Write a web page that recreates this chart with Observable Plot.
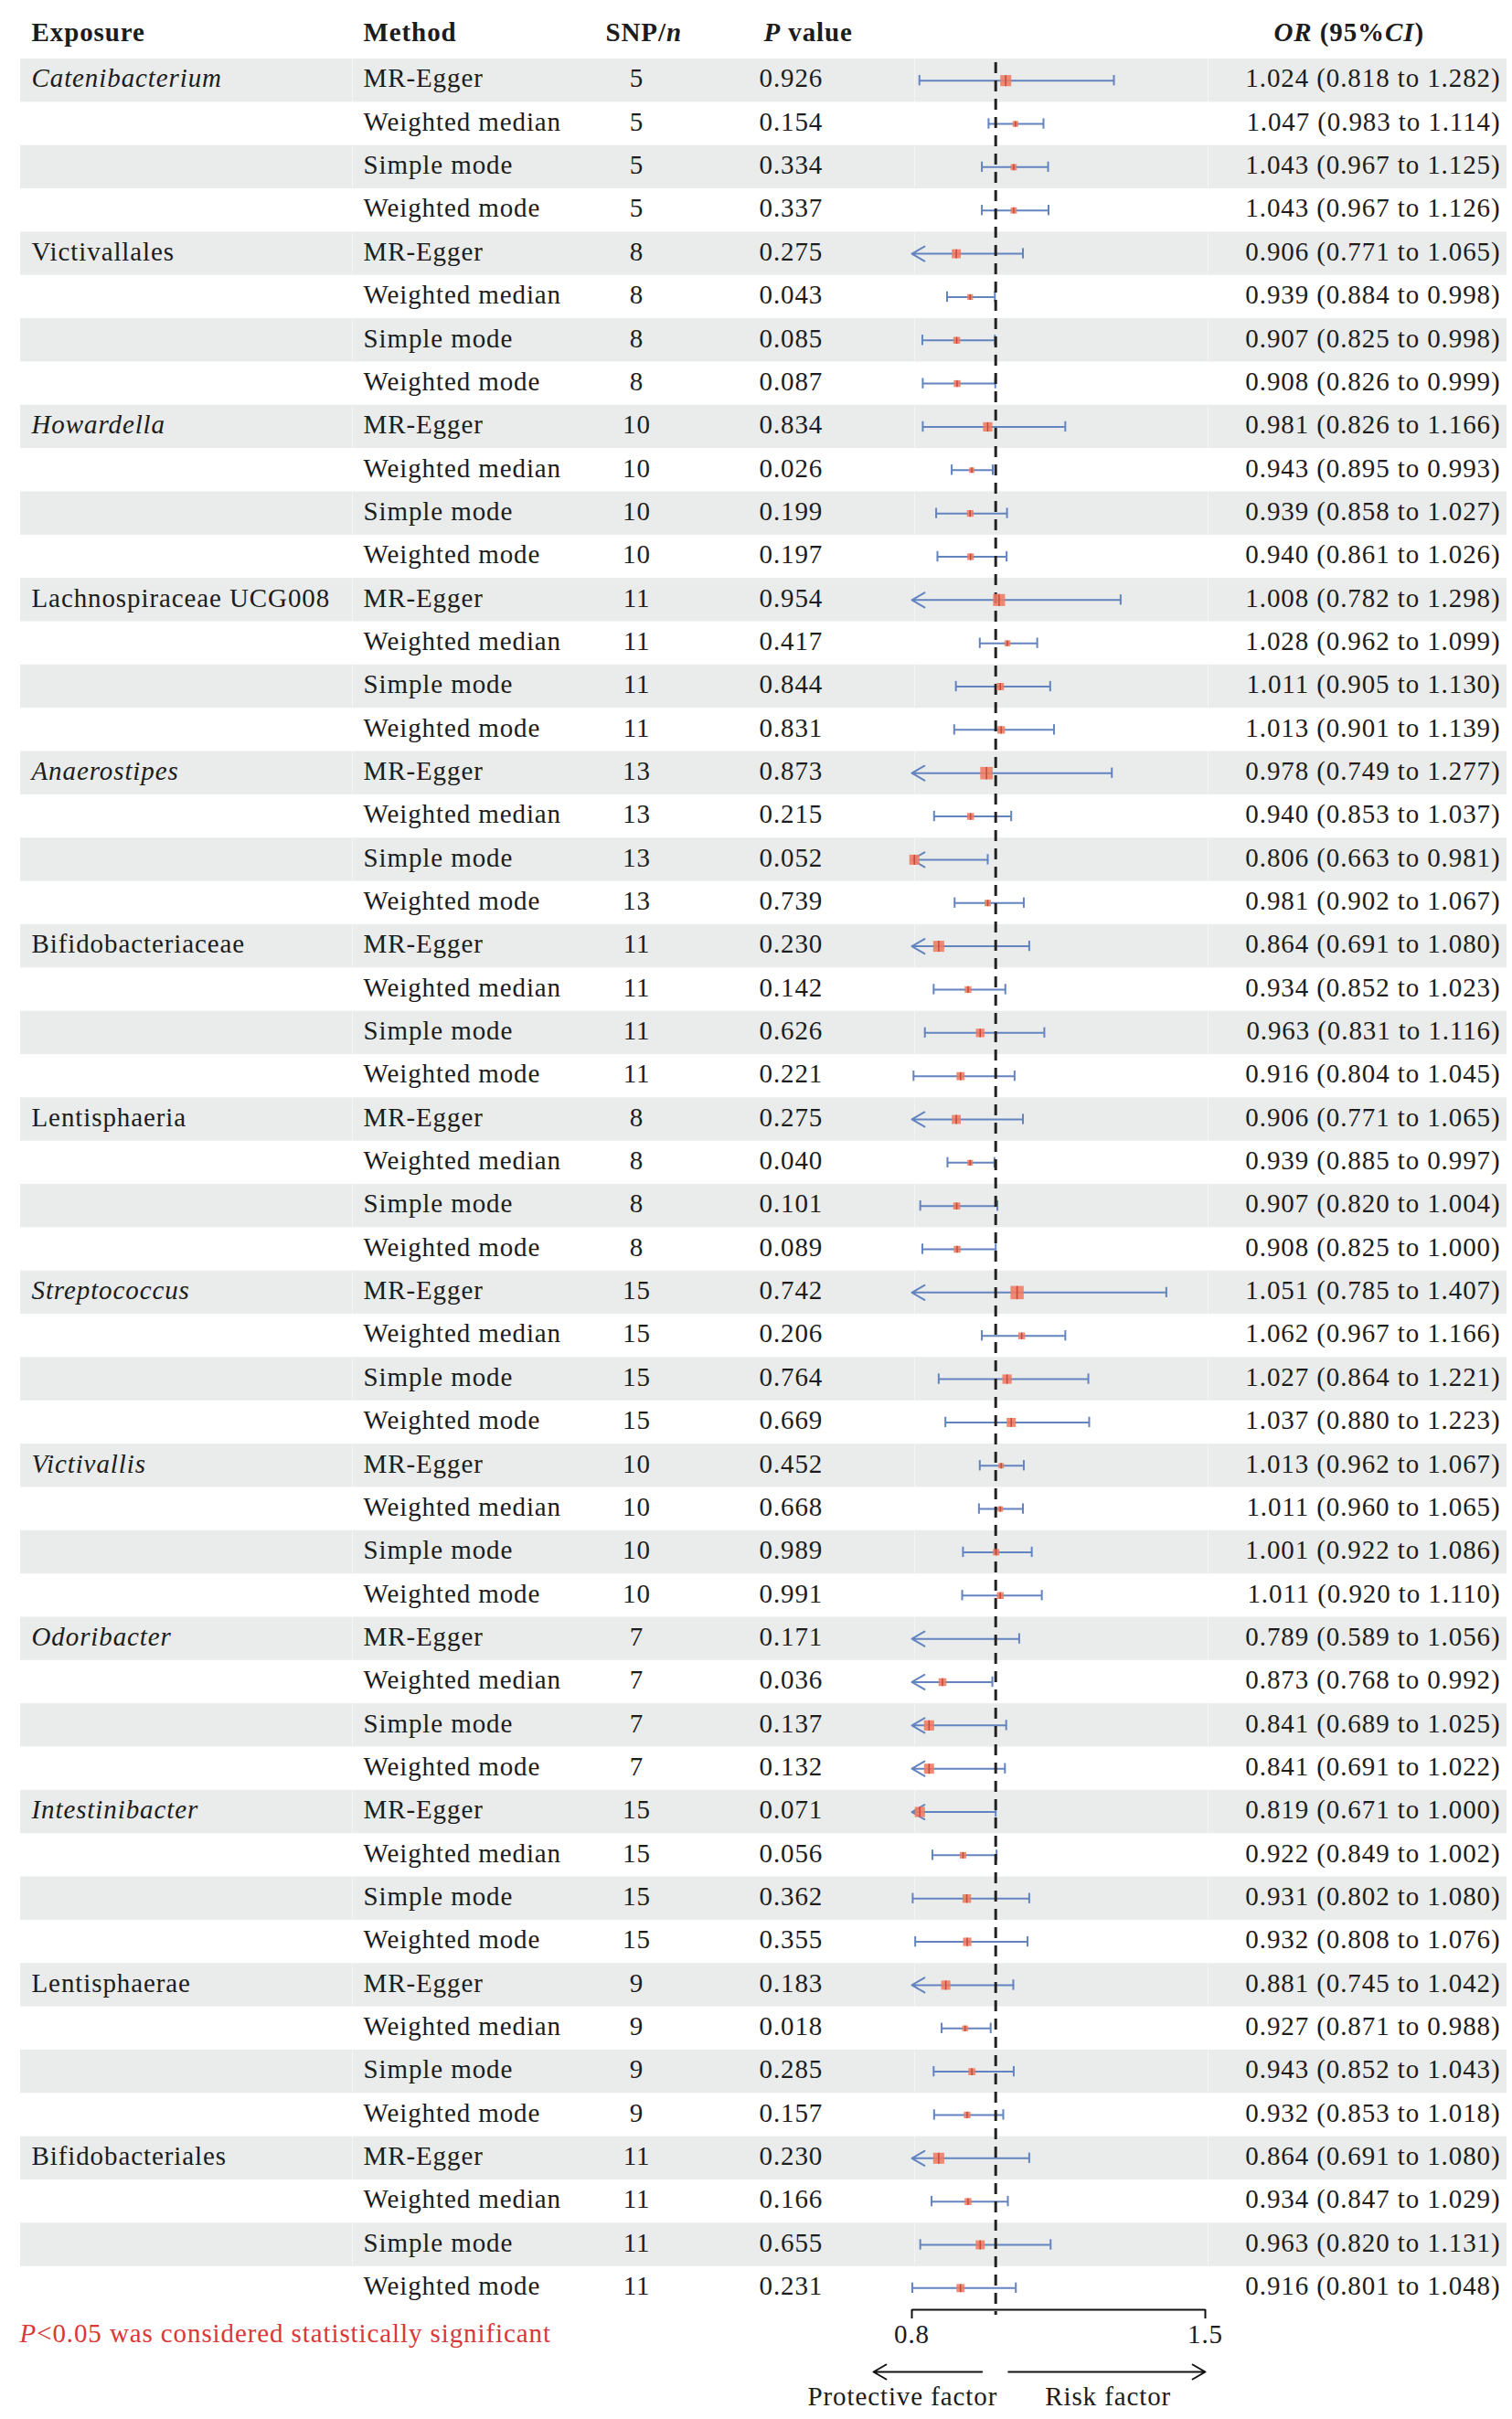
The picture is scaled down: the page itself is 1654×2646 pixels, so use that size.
<!DOCTYPE html>
<html>
<head>
<meta charset="utf-8">
<script src="https://cdn.jsdelivr.net/npm/d3@7"></script>
<script src="https://cdn.jsdelivr.net/npm/@observablehq/plot@0.6"></script>
<style>
  html, body { margin: 0; padding: 0; background: #ffffff; }
  #chart svg { display: block; }
</style>
</head>
<body>
<div id="chart"></div>
<script>
// ---------------- DATA ----------------
const exposures = ["Catenibacterium", "Victivallales", "Howardella", "Lachnospiraceae UCG008",
  "Anaerostipes", "Bifidobacteriaceae", "Lentisphaeria", "Streptococcus", "Victivallis",
  "Odoribacter", "Intestinibacter", "Lentisphaerae", "Bifidobacteriales"];
const italicExposures = ["Catenibacterium", "Howardella", "Anaerostipes", "Streptococcus",
  "Victivallis", "Odoribacter", "Intestinibacter"];
const snps = [5, 8, 10, 11, 13, 11, 8, 15, 10, 7, 15, 9, 11];
const methods = ["MR-Egger", "Weighted median", "Simple mode", "Weighted mode"];
const pValues = [
  0.926, 0.154, 0.334, 0.337,
  0.275, 0.043, 0.085, 0.087,
  0.834, 0.026, 0.199, 0.197,
  0.954, 0.417, 0.844, 0.831,
  0.873, 0.215, 0.052, 0.739,
  0.230, 0.142, 0.626, 0.221,
  0.275, 0.040, 0.101, 0.089,
  0.742, 0.206, 0.764, 0.669,
  0.452, 0.668, 0.989, 0.991,
  0.171, 0.036, 0.137, 0.132,
  0.071, 0.056, 0.362, 0.355,
  0.183, 0.018, 0.285, 0.157,
  0.230, 0.166, 0.655, 0.231];
const orValues = [
  1.024, 1.047, 1.043, 1.043,
  0.906, 0.939, 0.907, 0.908,
  0.981, 0.943, 0.939, 0.940,
  1.008, 1.028, 1.011, 1.013,
  0.978, 0.940, 0.806, 0.981,
  0.864, 0.934, 0.963, 0.916,
  0.906, 0.939, 0.907, 0.908,
  1.051, 1.062, 1.027, 1.037,
  1.013, 1.011, 1.001, 1.011,
  0.789, 0.873, 0.841, 0.841,
  0.819, 0.922, 0.931, 0.932,
  0.881, 0.927, 0.943, 0.932,
  0.864, 0.934, 0.963, 0.916];
const ciLower = [
  0.818, 0.983, 0.967, 0.967,
  0.771, 0.884, 0.825, 0.826,
  0.826, 0.895, 0.858, 0.861,
  0.782, 0.962, 0.905, 0.901,
  0.749, 0.853, 0.663, 0.902,
  0.691, 0.852, 0.831, 0.804,
  0.771, 0.885, 0.820, 0.825,
  0.785, 0.967, 0.864, 0.880,
  0.962, 0.960, 0.922, 0.920,
  0.589, 0.768, 0.689, 0.691,
  0.671, 0.849, 0.802, 0.808,
  0.745, 0.871, 0.852, 0.853,
  0.691, 0.847, 0.820, 0.801];
const ciUpper = [
  1.282, 1.114, 1.125, 1.126,
  1.065, 0.998, 0.998, 0.999,
  1.166, 0.993, 1.027, 1.026,
  1.298, 1.099, 1.130, 1.139,
  1.277, 1.037, 0.981, 1.067,
  1.080, 1.023, 1.116, 1.045,
  1.065, 0.997, 1.004, 1.000,
  1.407, 1.166, 1.221, 1.223,
  1.067, 1.065, 1.086, 1.110,
  1.056, 0.992, 1.025, 1.022,
  1.000, 1.002, 1.080, 1.076,
  1.042, 0.988, 1.043, 1.018,
  1.080, 1.029, 1.131, 1.048];
const xTicks = [0.8, 1.5];
const nullOR = 1;
const headers = ["Exposure", "Method", "SNP/*n*", "*P* value", "*OR* (95%*CI*)"];
const footnote = "*P*<0.05 was considered statistically significant";
const directionLabels = ["Protective factor", "Risk factor"];

// ---------------- TABLE ----------------
const rows = [];
exposures.forEach((e, g) => methods.forEach((m, k) => {
  const i = g * methods.length + k;
  rows.push({
    row: i, exposure: k === 0 ? e : "", italic: italicExposures.includes(e),
    method: m, snp: snps[g], p: pValues[i], or: orValues[i], lower: ciLower[i], upper: ciUpper[i]
  });
}));

// ---------------- LAYOUT ----------------
const W = 1654, H = 2646;
const M = {top: 64, bottom: 120, left: 997, right: 336};
const rowH = (H - M.top - M.bottom) / rows.length;
const colX = {exposure: 34, method: 397, snpHead: 662, snp: 696, p: 830, pHead: 835, orHead: 1393, or: 1641};
const dxOf = (px) => px - M.left;
const bandExtent = [22, 1648];
const bandSeparators = [385, 1000, 1321];
const rowDy = -2;

const [xmin, xmax] = d3.extent(xTicks);
const fmt3 = d3.format(".3f");
const strip = (s) => s.replace(/\*/g, "");
const blue = "#6384bf";
const textColor = "#1c1c1c";

const shown = rows.filter(d => d.or >= xmin && d.or <= xmax);
const capped = rows.filter(d => d.lower >= xmin);
const clipped = rows.filter(d => d.lower < xmin);
const lastRow = rows[rows.length - 1].row;
const vline = {draw(ctx, size) { const h = Math.sqrt(size) / 2; ctx.moveTo(0, -h); ctx.lineTo(0, h); }};
const boxR = (d) => Math.log(d.upper / d.lower);

const headerAnchors = [
  {x: colX.exposure, a: "start"}, {x: colX.method, a: "start"}, {x: colX.snpHead, a: "start"},
  {x: colX.pHead, a: "start"}, {x: colX.orHead, a: "start"}];

const marks = [];
// alternating row bands with faint column separators
const shaded = rows.filter(d => d.row % 2 === 0);
marks.push(Plot.cell(shaded, {y: "row", fill: "#e9eceb",
  insetLeft: bandExtent[0] - M.left, insetRight: (W - M.right) - bandExtent[1]}));
for (const s of bandSeparators) {
  marks.push(Plot.cell(shaded, {y: "row", fill: "#f3f5f4",
    insetLeft: s - M.left, insetRight: (W - M.right) - (s + 1)}));
}
// CI lines
marks.push(Plot.ruleY(capped, {y: "row", x1: "lower", x2: "upper", stroke: blue, strokeWidth: 2}));
marks.push(Plot.arrow(clipped, {x1: "upper", x2: () => xmin, y1: "row", y2: "row",
  stroke: blue, strokeWidth: 2, headLength: 12, headAngle: 60}));
marks.push(Plot.tickX(capped, {x: "lower", y: "row", stroke: blue, strokeWidth: 2, insetTop: 18, insetBottom: 18}));
marks.push(Plot.tickX(rows, {x: "upper", y: "row", stroke: blue, strokeWidth: 2, insetTop: 18, insetBottom: 18}));
// null line
marks.push(Plot.ruleX([nullOR], {stroke: "#222", strokeWidth: 3, strokeDasharray: "12,8", insetTop: 4, insetBottom: -6}));
// point estimates
marks.push(Plot.dot(shown, {x: "or", y: "row", r: boxR, symbol: "square", fill: "#ef7b62", fillOpacity: 0.88, stroke: "none"}));
marks.push(Plot.dot(shown, {x: "or", y: "row", r: boxR, symbol: vline, stroke: "#c44a3a", strokeWidth: 1.5, fill: "none"}));

// headers
headers.forEach((h, i) => {
  marks.push(Plot.text([h], {text: strip, frameAnchor: "top-left", lineAnchor: "middle", dx: dxOf(headerAnchors[i].x), dy: -29,
    textAnchor: headerAnchors[i].a, fontWeight: "bold", fill: textColor}));
});
// table columns
const rowText = {frameAnchor: "left", lineAnchor: "middle", dy: rowDy, fill: textColor};
marks.push(Plot.text(rows.filter(d => d.exposure && d.italic), {...rowText, y: "row", text: "exposure",
  dx: dxOf(colX.exposure), textAnchor: "start", fontStyle: "italic"}));
marks.push(Plot.text(rows.filter(d => d.exposure && !d.italic), {...rowText, y: "row", text: "exposure",
  dx: dxOf(colX.exposure), textAnchor: "start"}));
marks.push(Plot.text(rows, {...rowText, y: "row", text: "method", dx: dxOf(colX.method), textAnchor: "start"}));
marks.push(Plot.text(rows, {...rowText, y: "row", text: d => String(d.snp), dx: dxOf(colX.snp), textAnchor: "middle"}));
marks.push(Plot.text(rows, {...rowText, y: "row", text: d => fmt3(d.p), dx: dxOf(colX.p), textAnchor: "start"}));
marks.push(Plot.text(rows, {...rowText, y: "row", text: d => `${fmt3(d.or)} (${fmt3(d.lower)} to ${fmt3(d.upper)})`,
  dx: dxOf(colX.or), textAnchor: "end"}));

// bottom axis line with end ticks and labels
marks.push(Plot.link([xTicks], {x1: d => d[0], x2: d => d[1], y1: () => lastRow, y2: () => lastRow,
  dy: rowH / 2, stroke: "#111", strokeWidth: 2}));
if (Plot.axisX) {
  marks.push(Plot.axisX(xTicks, {anchor: "bottom", tickSize: 10, tickPadding: 6, strokeWidth: 2,
    tickFormat: d3.format(".1f"), label: null, fill: textColor, stroke: "#111"}));
}
// direction arrows
const arrowDy = rowH / 2 + 68;
marks.push(Plot.arrow([0], {x1: () => nullOR, x2: () => xmin, y1: () => lastRow, y2: () => lastRow,
  dy: arrowDy, insetStart: 15, insetEnd: -42, stroke: "#111", strokeWidth: 2, headLength: 12, headAngle: 60}));
marks.push(Plot.arrow([0], {x1: () => nullOR, x2: () => xmax, y1: () => lastRow, y2: () => lastRow,
  dy: arrowDy, insetStart: 14, insetEnd: 0, stroke: "#111", strokeWidth: 2, headLength: 12, headAngle: 60}));
marks.push(Plot.text([directionLabels[0]], {text: d => d, x: () => nullOR, frameAnchor: "bottom", lineAnchor: "middle",
  dx: 2, dy: 95, textAnchor: "end", fill: textColor}));
marks.push(Plot.text([directionLabels[1]], {text: d => d, x: () => nullOR, frameAnchor: "bottom", lineAnchor: "middle",
  dx: 54, dy: 95, textAnchor: "start", fill: textColor}));
// footnote
marks.push(Plot.text([footnote], {text: strip, frameAnchor: "bottom-left", lineAnchor: "middle", dx: dxOf(21), dy: 26,
  textAnchor: "start", fill: "#d8383a"}));

const chart = Plot.plot({
  width: W, height: H,
  marginTop: M.top, marginBottom: M.bottom, marginLeft: M.left, marginRight: M.right,
  style: {fontFamily: '"Liberation Serif", "Times New Roman", serif', fontSize: "29px",
    letterSpacing: "0.9px", color: "#111", background: "#ffffff"},
  x: {domain: [xmin, xmax], axis: null},
  y: {type: "band", domain: rows.map(d => d.row), padding: 0, round: false, axis: null},
  r: {type: "linear", domain: [0, 0.6], range: [2.26, 8.35]},
  marks
});
document.getElementById("chart").appendChild(chart);

// rich text (italic parts) for header and footnote
const richMap = new Map([...headers, footnote].map(s => [strip(s), s]));
d3.select(chart).selectAll("text").each(function () {
  const marked = richMap.get(this.textContent);
  if (!marked || marked === strip(marked)) return;
  this.textContent = "";
  marked.split("*").forEach((seg, i) => {
    if (!seg) return;
    const t = document.createElementNS("http://www.w3.org/2000/svg", "tspan");
    if (i % 2 === 1) t.setAttribute("font-style", "italic");
    t.textContent = seg;
    this.appendChild(t);
  });
});
</script>
</body>
</html>
